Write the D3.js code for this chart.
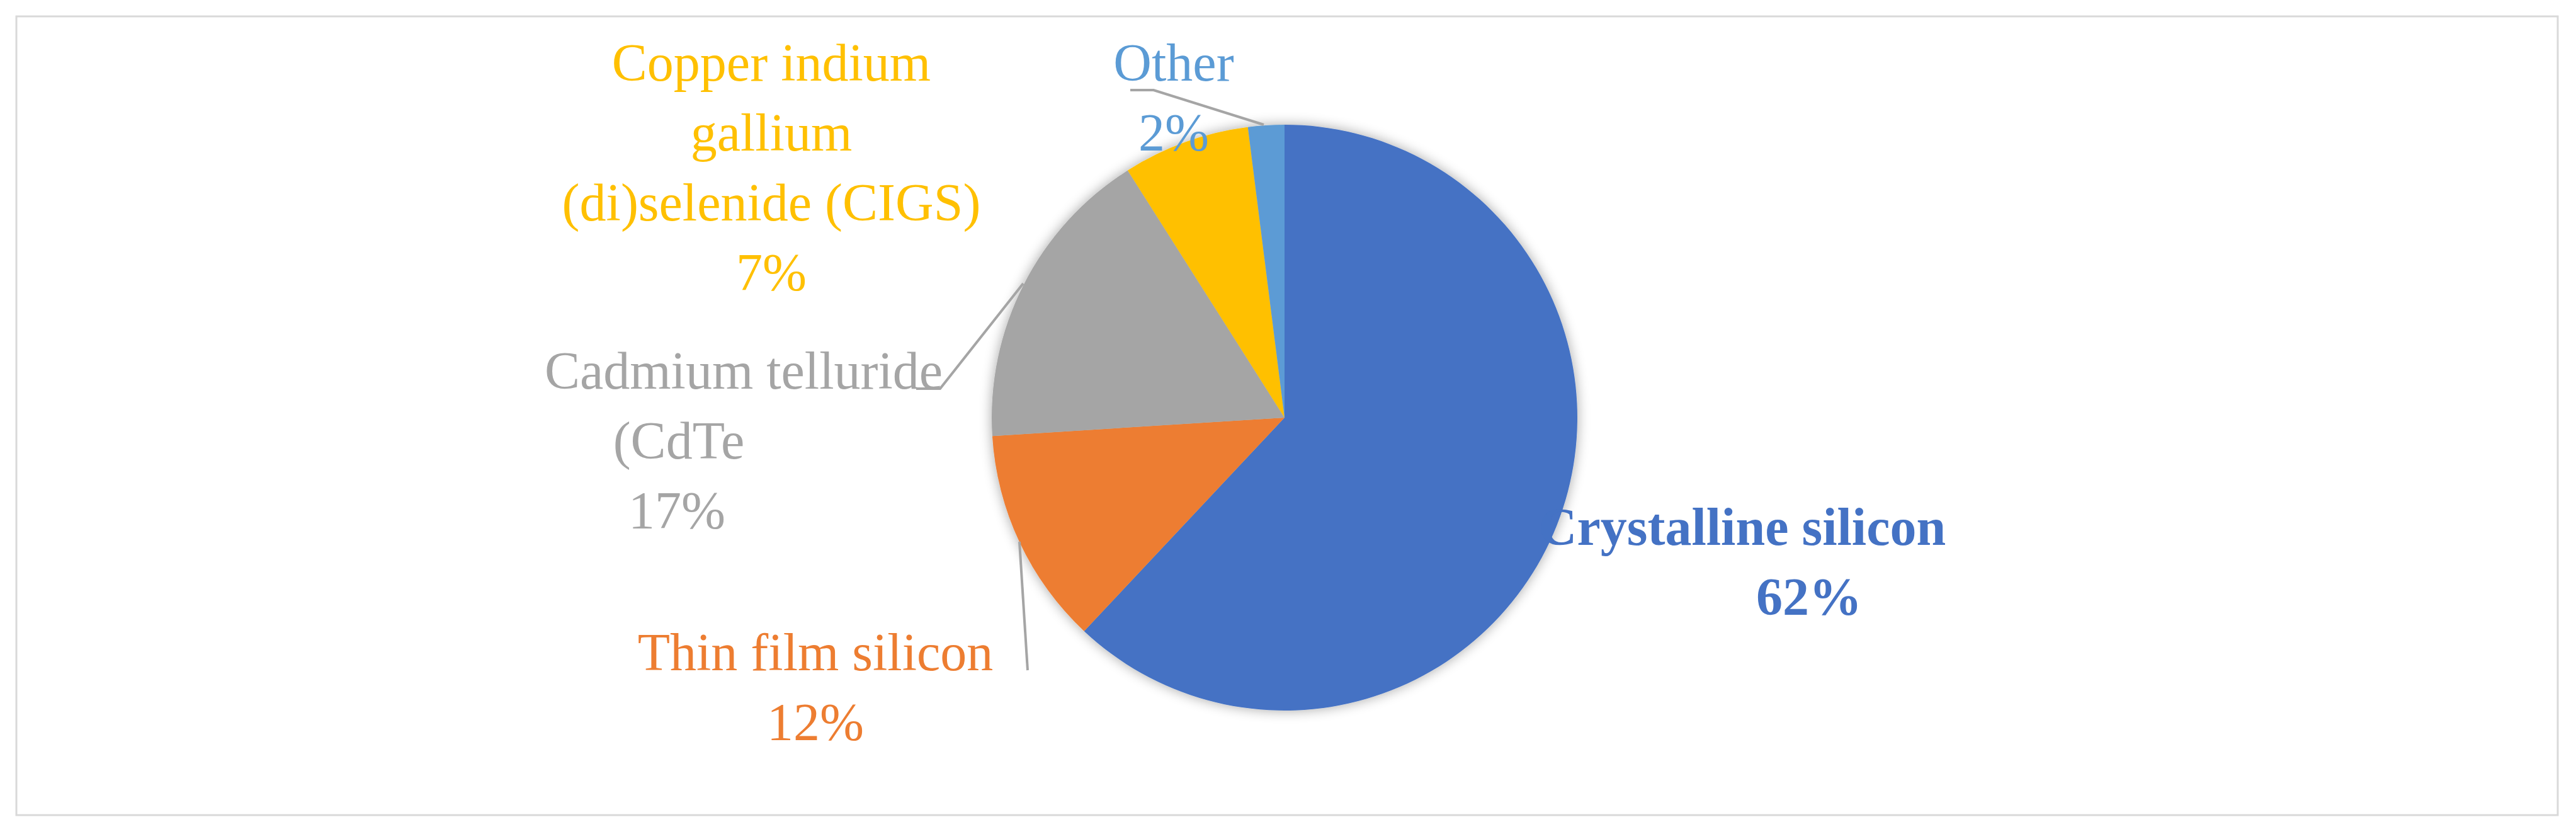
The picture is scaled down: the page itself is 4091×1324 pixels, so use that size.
<!DOCTYPE html>
<html>
<head>
<meta charset="utf-8">
<script src="https://cdn.jsdelivr.net/npm/d3@7"></script>
<style>
  body { margin: 0; background: #fff; }
  text { font-family: "Liberation Serif", "DejaVu Serif", serif; }
</style>
</head>
<body>
<script>
// data
var categories = ["Crystalline silicon", "Thin film silicon", "Cadmium telluride (CdTe", "Copper indium gallium (di)selenide (CIGS)", "Other"];
var values = [62, 12, 17, 7, 2];
var colors = ["#4472C4", "#ED7D31", "#A5A5A5", "#FFC000", "#5B9BD5"];
var labelLines = [
  ["Crystalline silicon"],
  ["Thin film silicon"],
  ["Cadmium telluride", "(CdTe"],
  ["Copper indium", "gallium", "(di)selenide (CIGS)"],
  ["Other"]
];

var width = 4091, height = 1324;
var cx = 2040, cy = 663, radius = 465;

// label layout: x per line (name lines + percent line), first baseline
var layout = [
  {xs: [2767, 2873], y: 865, weight: "bold"},
  {xs: [1295, 1295], y: 1064, weight: "normal"},
  {xs: [1181, 1078, 1075], y: 617, weight: "normal"},
  {xs: [1225, 1225, 1225, 1225], y: 128, weight: "normal"},
  {xs: [1864, 1864], y: 128, weight: "normal"}
];
// leader lines (index, points)
var leaders = [
  {i: 1, pts: [[1632, 1064], [1619, 860]]},
  {i: 2, pts: [[1455, 617], [1493, 617], [1625, 450]]},
  {i: 4, pts: [[1795, 143], [1832, 143], [2007, 198]]}
];

var svg = d3.select("body").append("svg")
    .attr("width", width)
    .attr("height", height);

svg.append("rect")
    .attr("x", 26).attr("y", 26)
    .attr("width", 4036).attr("height", 1268)
    .attr("fill", "#fff")
    .attr("stroke", "#D9D9D9")
    .attr("stroke-width", 3);

var defs = svg.append("defs");
var f = defs.append("filter").attr("id", "shadow")
    .attr("x", "-20%").attr("y", "-20%").attr("width", "140%").attr("height", "140%");
f.append("feGaussianBlur").attr("in", "SourceAlpha").attr("stdDeviation", 10).attr("result", "b");
f.append("feComponentTransfer").append("feFuncA").attr("type", "linear").attr("slope", 0.35);
var m = f.append("feMerge");
m.append("feMergeNode");
m.append("feMergeNode").attr("in", "SourceGraphic");

var pie = d3.pie().sort(null).value(function(d) { return d; });
var arc = d3.arc().innerRadius(0).outerRadius(radius);

var g = svg.append("g")
    .attr("transform", "translate(" + cx + "," + cy + ")")
    .attr("filter", "url(#shadow)");

g.selectAll("path")
  .data(pie(values))
  .enter().append("path")
    .attr("d", arc)
    .attr("fill", function(d, i) { return colors[i]; });

// leader lines
svg.selectAll(".leader")
  .data(leaders)
  .enter().append("polyline")
    .attr("class", "leader")
    .attr("points", function(d) { return d.pts.map(function(p) { return p.join(","); }).join(" "); })
    .attr("fill", "none")
    .attr("stroke", "#A5A5A5")
    .attr("stroke-width", 4);

// labels
var lineH = 111;
labelLines.forEach(function(lines, i) {
  var all = lines.concat([values[i] + "%"]);
  var L = layout[i];
  var t = svg.append("text")
      .attr("text-anchor", "middle")
      .attr("font-size", 84)
      .attr("font-weight", L.weight)
      .attr("fill", colors[i]);
  all.forEach(function(s, k) {
    t.append("tspan")
      .attr("x", L.xs[k])
      .attr("y", L.y + k * lineH)
      .text(s);
  });
});
</script>
</body>
</html>
